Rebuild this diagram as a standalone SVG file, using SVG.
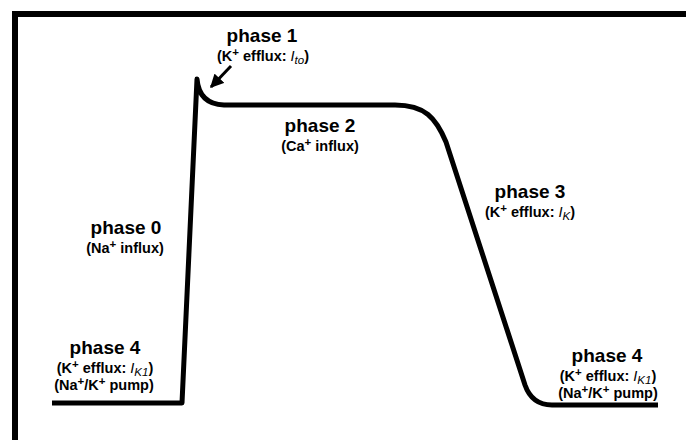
<svg xmlns="http://www.w3.org/2000/svg" width="686" height="440" viewBox="0 0 686 440">
  <style>
    .h { font-family: "Liberation Sans", Arial, sans-serif; font-weight: bold; font-size: 19px; fill: #000; text-anchor: middle; }
    .s { font-family: "Liberation Sans", Arial, sans-serif; font-weight: bold; font-size: 14.5px; fill: #000; text-anchor: middle; }
    .sup { font-size: 11.5px; }
    .it { font-style: italic; font-weight: normal; }
    .trace { fill: none; stroke: #000; stroke-width: 5; stroke-linejoin: round; stroke-linecap: butt; }
  </style>
  <defs>
    <marker id="ah" viewBox="0 0 10 10" refX="9" refY="5" markerWidth="4.5" markerHeight="4.5" orient="auto" markerUnits="strokeWidth">
      <path d="M0,0 L10,5 L0,10 Z" fill="#000"/>
    </marker>
  </defs>
  <rect width="686" height="440" fill="#fff"/>
  <!-- frame -->
  <path d="M15,440 L15,14 L686,14" fill="none" stroke="#000" stroke-width="6"/>

  <g id="connectors">
    <path class="trace" d="M52,403 L182,403 L197,79 Q199,104 224,105 L395,105 C425,105 436,118 446,142 L525,385 Q532,405 552,405 L658,405"/>
    <line x1="231" y1="66" x2="211" y2="87" stroke="#000" stroke-width="3" marker-end="url(#ah)"/>
  </g>

  <g id="phase1">
    <text class="h" x="262" y="42">phase 1</text>
    <text class="s" x="263" y="61">(K<tspan class="sup" dy="-5">+</tspan><tspan dy="5"> efflux: </tspan><tspan class="it">I</tspan><tspan class="it sup" dy="3">to</tspan><tspan dy="-3">)</tspan></text>
  </g>
  <g id="phase2">
    <text class="h" x="320" y="132">phase 2</text>
    <text class="s" x="320" y="151">(Ca<tspan class="sup" dy="-5">+</tspan><tspan dy="5"> influx)</tspan></text>
  </g>
  <g id="phase3">
    <text class="h" x="530" y="198">phase 3</text>
    <text class="s" x="530" y="217">(K<tspan class="sup" dy="-5">+</tspan><tspan dy="5"> efflux: </tspan><tspan class="it">I</tspan><tspan class="it sup" dy="3">K</tspan><tspan dy="-3">)</tspan></text>
  </g>
  <g id="phase0">
    <text class="h" x="126" y="234">phase 0</text>
    <text class="s" x="125" y="253">(Na<tspan class="sup" dy="-5">+</tspan><tspan dy="5"> influx)</tspan></text>
  </g>
  <g id="phase4-left">
    <text class="h" x="105" y="354">phase 4</text>
    <text class="s" x="105" y="373">(K<tspan class="sup" dy="-5">+</tspan><tspan dy="5"> efflux: </tspan><tspan class="it">I</tspan><tspan class="it sup" dy="3">K1</tspan><tspan dy="-3">)</tspan></text>
    <text class="s" x="104" y="390">(Na<tspan class="sup" dy="-5">+</tspan><tspan dy="5">/K</tspan><tspan class="sup" dy="-5">+</tspan><tspan dy="5"> pump)</tspan></text>
  </g>
  <g id="phase4-right">
    <text class="h" x="607" y="362">phase 4</text>
    <text class="s" x="608" y="381">(K<tspan class="sup" dy="-5">+</tspan><tspan dy="5"> efflux: </tspan><tspan class="it">I</tspan><tspan class="it sup" dy="3">K1</tspan><tspan dy="-3">)</tspan></text>
    <text class="s" x="608" y="398">(Na<tspan class="sup" dy="-5">+</tspan><tspan dy="5">/K</tspan><tspan class="sup" dy="-5">+</tspan><tspan dy="5"> pump)</tspan></text>
  </g>
</svg>
